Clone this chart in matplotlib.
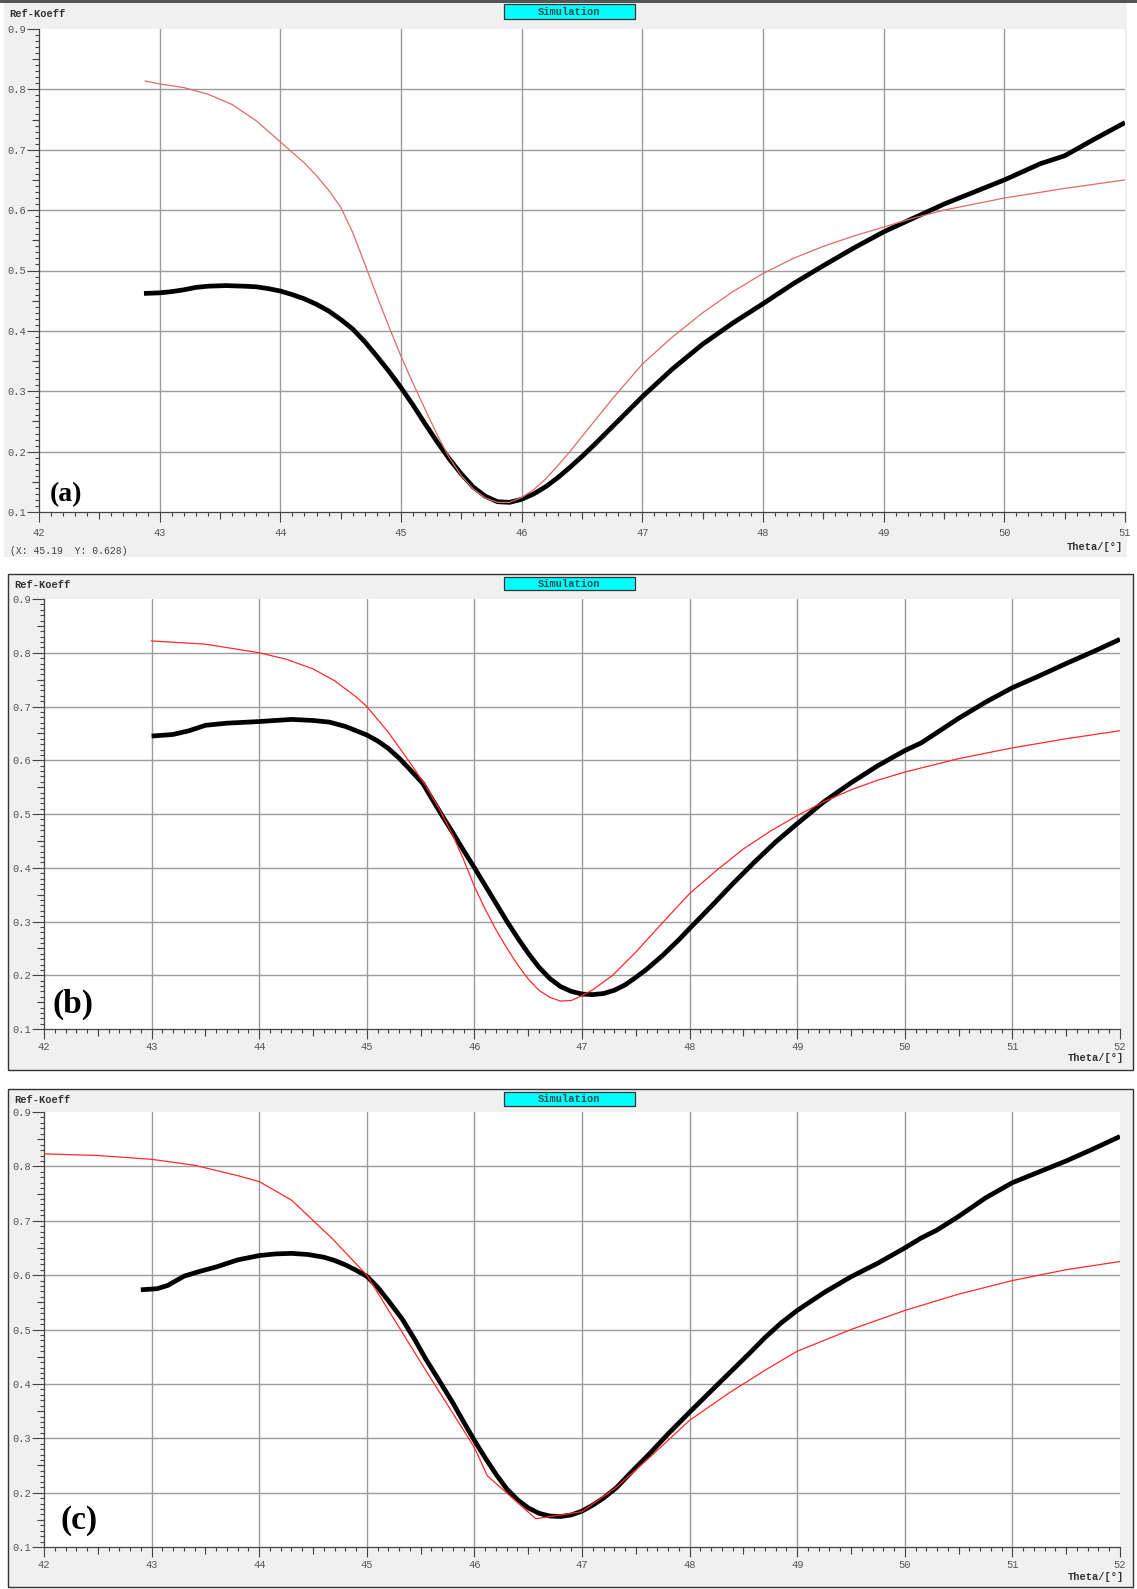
import matplotlib
matplotlib.use("Agg")
import matplotlib.pyplot as plt
from matplotlib.patches import Rectangle
from matplotlib.ticker import MultipleLocator, FixedLocator

# ---------------- data ----------------
# panel (a)
tha_exp = [42.87, 43.0, 43.1, 43.2, 43.3, 43.4, 43.55, 43.7, 43.8, 43.9, 44.0, 44.1, 44.2,
           44.3, 44.4, 44.5, 44.6, 44.7, 44.8, 44.9, 45.0, 45.1, 45.2, 45.3, 45.4, 45.5, 45.6,
           45.7, 45.8, 45.9, 46.0, 46.1, 46.2, 46.3, 46.4, 46.5, 46.6, 46.7, 46.8, 46.9, 47.0,
           47.25, 47.5, 47.75, 48.0, 48.25, 48.5, 48.75, 49.0, 49.25, 49.5, 49.75, 50.0, 50.2,
           50.3, 50.5, 50.75, 51.0]
Ra_exp = [0.462, 0.463, 0.465, 0.468, 0.472, 0.474, 0.475, 0.474, 0.473, 0.470, 0.466, 0.460,
          0.453, 0.444, 0.433, 0.419, 0.403, 0.382, 0.358, 0.333, 0.306, 0.277, 0.246, 0.216,
          0.188, 0.163, 0.141, 0.126, 0.117, 0.116, 0.121, 0.130, 0.142, 0.157, 0.174, 0.192,
          0.211, 0.231, 0.251, 0.271, 0.291, 0.337, 0.378, 0.413, 0.445, 0.478, 0.508, 0.537,
          0.564, 0.587, 0.610, 0.630, 0.650, 0.668, 0.677, 0.690, 0.718, 0.745]
tha_sim = [42.88, 43.0, 43.2, 43.4, 43.6, 43.8, 44.0, 44.2, 44.3, 44.4, 44.5, 44.6, 44.7, 44.8,
           44.9, 45.0, 45.1, 45.2, 45.3, 45.4, 45.5, 45.6, 45.7, 45.8, 45.9, 46.0, 46.1, 46.2,
           46.3, 46.4, 46.5, 46.75, 47.0, 47.25, 47.5, 47.75, 48.0, 48.25, 48.5, 48.75, 49.0,
           49.25, 49.5, 49.75, 50.0, 50.5, 51.0]
Ra_sim = [0.814, 0.809, 0.803, 0.792, 0.775, 0.748, 0.713, 0.678, 0.657, 0.633, 0.605, 0.563,
          0.511, 0.458, 0.407, 0.358, 0.313, 0.270, 0.228, 0.190, 0.160, 0.138, 0.123, 0.116,
          0.116, 0.124, 0.137, 0.155, 0.177, 0.200, 0.225, 0.287, 0.345, 0.390, 0.430, 0.465,
          0.495, 0.520, 0.540, 0.557, 0.572, 0.587, 0.600, 0.610, 0.620, 0.636, 0.650]

# panel (b)
thb_exp = [43.0, 43.2, 43.35, 43.5, 43.7, 44.0, 44.3, 44.5, 44.65, 44.8, 45.0, 45.1, 45.2,
           45.3, 45.4, 45.52, 45.6, 45.7, 45.8, 45.9, 46.0, 46.1, 46.2, 46.3, 46.4, 46.5, 46.6,
           46.7, 46.8, 46.9, 47.0, 47.1, 47.2, 47.3, 47.4, 47.5, 47.6, 47.75, 47.9, 48.0, 48.2,
           48.4, 48.6, 48.8, 49.0, 49.25, 49.5, 49.75, 50.0, 50.15, 50.25, 50.5, 50.75, 51.0,
           51.25, 51.5, 51.75, 52.0]
Rb_exp = [0.645, 0.648, 0.655, 0.665, 0.669, 0.672, 0.676, 0.674, 0.671, 0.663, 0.647, 0.636,
          0.622, 0.604, 0.583, 0.557, 0.530, 0.497, 0.465, 0.432, 0.400, 0.367, 0.334, 0.301,
          0.270, 0.241, 0.215, 0.194, 0.179, 0.170, 0.165, 0.164, 0.166, 0.172, 0.182, 0.196,
          0.211, 0.237, 0.266, 0.287, 0.328, 0.370, 0.410, 0.448, 0.482, 0.523, 0.558, 0.590,
          0.618, 0.632, 0.645, 0.678, 0.708, 0.735, 0.757, 0.780, 0.802, 0.825]
thb_sim = [43.0, 43.5, 44.0, 44.25, 44.5, 44.7, 44.9, 45.0, 45.2, 45.4, 45.55, 45.68, 45.8,
           45.9, 46.0, 46.1, 46.2, 46.3, 46.4, 46.5, 46.6, 46.7, 46.8, 46.9, 47.0, 47.1, 47.28,
           47.5, 47.75, 48.0, 48.25, 48.5, 48.75, 49.0, 49.25, 49.5, 49.75, 50.0, 50.5, 51.0,
           51.5, 52.0]
Rb_sim = [0.822, 0.816, 0.800, 0.788, 0.770, 0.748, 0.718, 0.700, 0.652, 0.596, 0.552, 0.507,
          0.460, 0.415, 0.365, 0.323, 0.285, 0.251, 0.220, 0.193, 0.172, 0.159, 0.152, 0.153,
          0.162, 0.173, 0.199, 0.243, 0.298, 0.352, 0.395, 0.435, 0.468, 0.497, 0.523, 0.545,
          0.563, 0.578, 0.603, 0.623, 0.640, 0.655]

# panel (c)
thc_exp = [42.9, 43.05, 43.15, 43.3, 43.45, 43.6, 43.8, 44.0, 44.15, 44.3, 44.45, 44.6, 44.7,
           44.8, 44.9, 45.0, 45.1, 45.2, 45.33, 45.45, 45.55, 45.67, 45.8, 45.9, 46.0, 46.1,
           46.2, 46.3, 46.4, 46.5, 46.6, 46.7, 46.8, 46.9, 47.0, 47.1, 47.2, 47.32, 47.45,
           47.63, 47.8, 48.0, 48.2, 48.38, 48.55, 48.7, 48.85, 49.0, 49.25, 49.5, 49.75, 50.0,
           50.15, 50.3, 50.5, 50.75, 51.0, 51.25, 51.5, 51.75, 52.0]
Rc_exp = [0.573, 0.575, 0.581, 0.598, 0.607, 0.615, 0.628, 0.636, 0.639, 0.640, 0.638, 0.633,
          0.627, 0.619, 0.609, 0.598, 0.578, 0.553, 0.519, 0.480, 0.445, 0.407, 0.365, 0.330,
          0.296, 0.264, 0.234, 0.207, 0.187, 0.172, 0.162, 0.157, 0.156, 0.159, 0.166, 0.177,
          0.190, 0.209, 0.236, 0.272, 0.308, 0.348, 0.387, 0.422, 0.455, 0.485, 0.512, 0.535,
          0.568, 0.597, 0.622, 0.650, 0.668, 0.683, 0.708, 0.742, 0.770, 0.790, 0.810, 0.832,
          0.855]
thc_sim = [42.0, 42.5, 43.0, 43.4, 43.8, 44.0, 44.3, 44.68, 45.0, 45.5, 46.0, 46.12, 46.57,
           47.0, 47.32, 47.63, 48.0, 48.38, 48.7, 49.0, 49.5, 50.0, 50.5, 51.0, 51.5, 52.0]
Rc_sim = [0.823, 0.820, 0.813, 0.802, 0.783, 0.772, 0.738, 0.667, 0.600, 0.440, 0.283, 0.231,
          0.152, 0.165, 0.210, 0.265, 0.333, 0.385, 0.425, 0.460, 0.500, 0.535, 0.565, 0.590,
          0.610, 0.625]

yticks = [0.1, 0.2, 0.3, 0.4, 0.5, 0.6, 0.7, 0.8, 0.9]
ytick_labels = ["0.1", "0.2", "0.3", "0.4", "0.5", "0.6", "0.7", "0.8", "0.9"]
y_label = "Ref-Koeff"
x_label = "Theta/[°]"
legend_text = "Simulation"
cursor_text = "(X: 45.19  Y: 0.628)"
panel_labels = ["(a)", "(b)", "(c)"]

# ---------------- layout ----------------
W, H = 1137, 1589
MONO = ["Liberation Mono", "DejaVu Sans Mono"]
SERIF = ["Liberation Serif", "DejaVu Serif"]

fig = plt.figure(figsize=(W / 100, H / 100), dpi=100)
fig.patch.set_facecolor("white")


def frect(x0, y0, x1, y1):
    return [x0 / W, 1 - y1 / H, (x1 - x0) / W, (y1 - y0) / H]


def ftext(x, y, s, **kw):
    fig.text(x / W, 1 - y / H, s, **kw)


def fbox(x0, y0, x1, y1, fc, ec="none", lw=0.0, z=-10):
    r = frect(x0, y0, x1, y1)
    fig.patches.append(Rectangle((r[0], r[1]), r[2], r[3], transform=fig.transFigure,
                                 facecolor=fc, edgecolor=ec, linewidth=lw, zorder=z))


BG = "#f0f0f0"
# panel backgrounds
fbox(4, 2, 1127, 557, BG)
fig.patches.append(Rectangle((0, 1 - 2.5 / H), 1, 2.5 / H, transform=fig.transFigure,
                             facecolor="#555555", edgecolor="none", zorder=-9))
fbox(8, 574, 1133, 1070, BG, ec="#333333", lw=1.0)
fbox(8, 1089, 1133, 1587, BG, ec="#333333", lw=1.0)

panels = [
    dict(rect=(39, 29, 1125, 512), xlim=(42, 51), exp=(tha_exp, Ra_exp), sim=(tha_sim, Ra_sim),
         red="#e06a6a", ylab=(9, 14), sim_box=(504, 4, 635, 19), theta=(1123, 547), xpad=4.0,
         plab=(50, 495), plsize=20),
    dict(rect=(44, 599, 1120, 1029), xlim=(42, 52), exp=(thb_exp, Rb_exp), sim=(thb_sim, Rb_sim),
         red="#ff2a2a", ylab=(14, 585), sim_box=(504, 577, 635, 590), theta=(1124, 1058), xpad=2.0,
         plab=(53, 1004), plsize=24),
    dict(rect=(44, 1112, 1120, 1547), xlim=(42, 52), exp=(thc_exp, Rc_exp), sim=(thc_sim, Rc_sim),
         red="#ff2a2a", ylab=(14, 1100), sim_box=(504, 1092, 635, 1106), theta=(1124, 1577), xpad=2.0,
         plab=(60, 1520), plsize=24),
]

for i, p in enumerate(panels):
    ax = fig.add_axes(frect(*p["rect"]))
    ax.set_zorder(1)
    ax.set_facecolor("white")
    ax.set_xlim(*p["xlim"])
    ax.set_ylim(0.1, 0.9)
    for s in ("top", "right"):
        ax.spines[s].set_visible(False)
    for s in ("left", "bottom"):
        ax.spines[s].set_color("#444444")
        ax.spines[s].set_linewidth(0.9)

    xt = list(range(p["xlim"][0], p["xlim"][1] + 1))
    ax.xaxis.set_major_locator(FixedLocator(xt))
    ax.set_xticklabels([str(v) for v in xt])
    ax.xaxis.set_minor_locator(MultipleLocator(0.1))
    ax.yaxis.set_major_locator(FixedLocator(yticks))
    ax.set_yticklabels(ytick_labels)
    ax.yaxis.set_minor_locator(MultipleLocator(0.01))

    ax.tick_params(axis="x", which="major", direction="out", length=7.5, width=0.8,
                   color="#444444", pad=p["xpad"], labelsize=7.5, labelcolor="#555555")
    ax.tick_params(axis="x", which="minor", direction="out", length=2.8, width=0.8,
                   color="#444444")
    ax.tick_params(axis="y", which="major", direction="out", length=8.5, width=0.8,
                   color="#444444", pad=0.5, labelsize=7.5, labelcolor="#555555")
    ax.tick_params(axis="y", which="minor", direction="out", length=2.8, width=0.8,
                   color="#444444")
    for lab in ax.get_xticklabels() + ax.get_yticklabels():
        lab.set_family(MONO)

    # mid ticks (half steps)
    sx = ax.secondary_xaxis("bottom")
    sx.set_xticks([v + 0.5 for v in xt[:-1]])
    sx.tick_params(direction="out", length=5.2, width=0.8, color="#444444", labelbottom=False)
    sx.spines["bottom"].set_visible(False)
    sy = ax.secondary_yaxis("left")
    sy.set_yticks([v + 0.05 for v in yticks[:-1]])
    sy.tick_params(direction="out", length=5.2, width=0.8, color="#444444", labelleft=False)
    sy.spines["left"].set_visible(False)

    # grid
    for v in xt[1:-1]:
        ax.axvline(v, color="#9c9c9c", lw=1.0, zorder=1)
    for v in yticks[1:-1]:
        ax.axhline(v, color="#9c9c9c", lw=1.0, zorder=1)

    ax.plot(p["exp"][0], p["exp"][1], color="black", lw=3.4, zorder=3,
            solid_joinstyle="round", solid_capstyle="butt")
    ax.plot(p["sim"][0], p["sim"][1], color=p["red"], lw=0.9, zorder=4)

    # texts
    ftext(p["ylab"][0], p["ylab"][1], y_label, family=MONO, fontsize=7.5, fontweight="bold",
          color="#333333", ha="left", va="center")
    bx = p["sim_box"]
    fbox(bx[0], bx[1], bx[2], bx[3], "#00ffff", ec="#333333", lw=0.9, z=5)
    ftext((bx[0] + bx[2]) / 2, (bx[1] + bx[3]) / 2 + 0.5, legend_text, family=MONO,
          fontsize=7.5, fontweight="bold", color="#1f4f4f", ha="center", va="center", zorder=6)
    ftext(p["theta"][0], p["theta"][1], x_label, family=MONO, fontsize=7.5, fontweight="bold",
          color="#333333", ha="right", va="center")
    ftext(p["plab"][0], p["plab"][1], panel_labels[i], family=SERIF, fontsize=p["plsize"],
          fontweight="bold", color="black", ha="left", va="center", zorder=7)

ftext(10, 551, cursor_text, family=MONO, fontsize=7, color="#444444", ha="left", va="center")

fig.savefig("out.png", dpi=100, facecolor="white")
